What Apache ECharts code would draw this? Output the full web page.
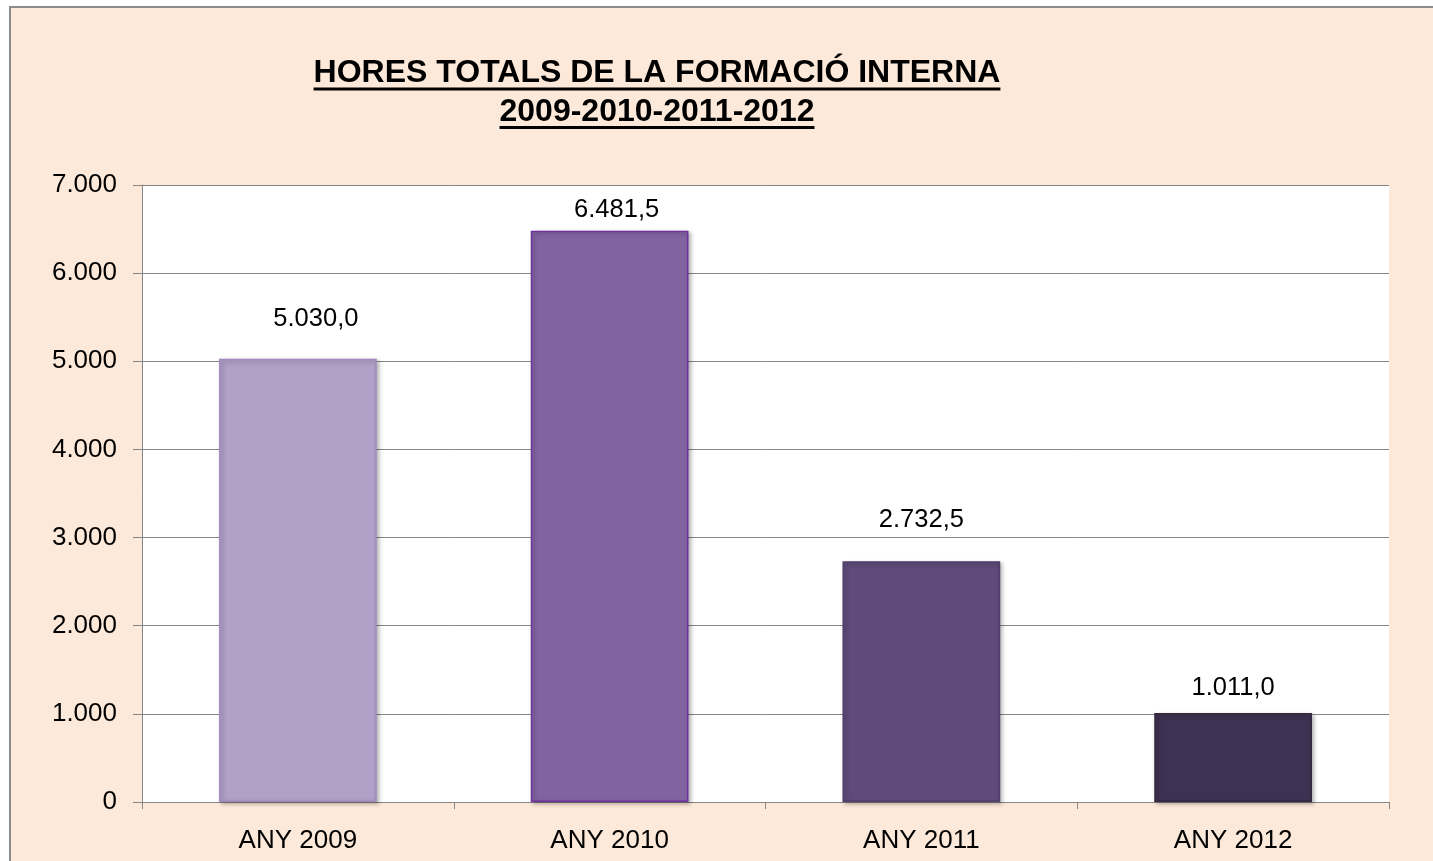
<!DOCTYPE html>
<html lang="ca">
<head>
  <meta charset="UTF-8">
  <title>Hores totals de la formació interna</title>
  <style>
    html, body { margin: 0; padding: 0; background: #ffffff; overflow: hidden; width: 1433px; height: 861px; }
    #frame {
      position: absolute;
      left: 9px; top: 6px; right: 0; bottom: 0;
      border-left: 2px solid #8c8c8c;
      border-top: 2px solid #8c8c8c;
      background-color: #fde9d9;
    }
    #chart {
      position: absolute;
      left: 0; top: 0;
      width: 1433px; height: 861px;
    }
  </style>
</head>
<body>
<div id="frame"></div>
<div id="chart"></div>
<script src="https://cdn.jsdelivr.net/npm/echarts@6/dist/echarts.min.js"></script>
<script>
  // dades del gràfic
  const titleLines = ['HORES TOTALS DE LA FORMACIÓ INTERNA', '2009-2010-2011-2012'];
  const categories = ['ANY 2009', 'ANY 2010', 'ANY 2011', 'ANY 2012'];
  const hours = [5030.0, 6481.5, 2732.5, 1011.0];

  const FONT = '"Liberation Sans", Arial, Helvetica, sans-serif';
  const barColors = ['#b1a0c7', '#8064a2', '#604a7b', '#3f3151'];
  const barBorders = ['#a28cbf', '#7030a0', '#503d68', '#35293f'];
  // posició manual de les etiquetes (com a l'original)
  const labelDist = [27, 8, 28, 12];
  const labelShift = [18, 7, 0, 0];

  function thousands(n) {
    return String(n).replace(/\B(?=(\d{3})+(?!\d))/g, '.');
  }
  function fmtValue(v) {
    const parts = v.toFixed(1).split('.');
    return thousands(parts[0]) + ',' + parts[1];
  }

  // amplada del títol per fer el subratllat
  const ctx = document.createElement('canvas').getContext('2d');
  ctx.font = 'bold 32px ' + FONT;
  const titleX = 657;
  const underlineY = [89, 127.5];
  const underlines = titleLines.map((t, i) => {
    const w = ctx.measureText(t).width;
    return {
      type: 'line',
      shape: { x1: titleX - w / 2, y1: underlineY[i], x2: titleX + w / 2, y2: underlineY[i] },
      style: { stroke: '#000', lineWidth: 3 }
    };
  });

  const myChart = echarts.init(document.getElementById('chart'));

  const option = {
    backgroundColor: 'transparent',
    animation: false,
    textStyle: { fontFamily: FONT },
    title: {
      text: titleLines.join('\n'),
      left: titleX,
      top: 54,
      padding: 0,
      textAlign: 'center',
      textStyle: {
        fontFamily: FONT,
        fontSize: 32,
        fontWeight: 'bold',
        color: '#000',
        lineHeight: 39
      }
    },
    graphic: underlines,
    grid: {
      left: 142,
      right: 44,
      top: 185,
      bottom: 59,
      show: true,
      backgroundColor: '#ffffff',
      borderWidth: 0
    },
    xAxis: {
      type: 'category',
      data: categories,
      axisLine: { lineStyle: { color: '#868686', width: 1 } },
      axisTick: { show: true, length: 7, lineStyle: { color: '#868686' } },
      axisLabel: { color: '#000', fontSize: 26, margin: 26, fontFamily: FONT }
    },
    yAxis: {
      type: 'value',
      min: 0,
      max: 7000,
      interval: 1000,
      axisLine: { show: true, lineStyle: { color: '#868686', width: 1 } },
      axisTick: { show: true, length: 9, lineStyle: { color: '#868686' } },
      axisLabel: {
        color: '#000', fontSize: 26, margin: 25, fontFamily: FONT,
        formatter: v => thousands(v)
      },
      splitLine: { show: true, lineStyle: { color: '#868686', width: 1 } }
    },
    series: [
      {
        type: 'bar',
        barWidth: '50.6%',
        data: hours.map((v, i) => ({
          value: v,
          itemStyle: { color: barColors[i], borderColor: barBorders[i] },
          label: { distance: labelDist[i], offset: [labelShift[i], 0] }
        })),
        itemStyle: {
          borderWidth: 1.5,
          shadowBlur: 4,
          shadowOffsetX: 2,
          shadowOffsetY: 2,
          shadowColor: 'rgba(0,0,0,0.3)'
        },
        label: {
          show: true,
          position: 'top',
          color: '#000',
          fontSize: 25.5,
          fontFamily: FONT,
          formatter: p => fmtValue(p.value)
        }
      }
    ]
  };

  myChart.setOption(option);
</script>
</body>
</html>
